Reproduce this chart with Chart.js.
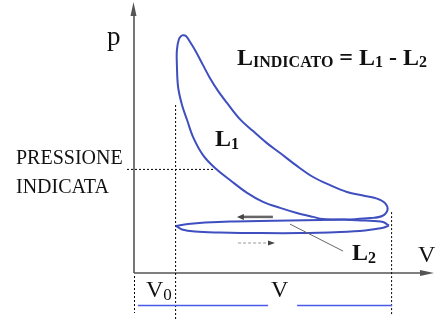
<!DOCTYPE html>
<html>
<head>
<meta charset="utf-8">
<script src="https://cdn.jsdelivr.net/npm/chart.js@4/dist/chart.umd.min.js"></script>
<style>
  body { margin: 0; background: #fff; }
  #wrap { width: 445px; height: 321px; }
</style>
</head>
<body>
<div id="wrap"><canvas id="pv"></canvas></div>
<script>
// Ciclo indicato p-V (unità arbitrarie)
const aspirazioneV = [14.0, 16.0, 20.3, 28.7, 42.0, 55.3, 68.7, 77.0, 82.7, 85.0];
const aspirazioneP = [15.7, 14.5, 13.8, 13.5, 13.3, 13.3, 13.7, 14.2, 15.0, 15.8];

const compressioneV = [85.0, 83.0, 77.0, 70.3, 63.0, 59.7, 54.3, 48.7, 43.0, 37.7, 32.0, 27.0, 23.0, 19.7, 17.7, 16.0, 14.7, 14.3, 14.3, 15.0, 16.0];
const compressioneP = [15.8, 17.0, 17.5, 17.8, 18.0, 18.7, 20.0, 21.7, 23.7, 26.7, 31.0, 35.0, 39.3, 45.3, 51.0, 56.0, 62.0, 69.3, 74.3, 78.0, 79.3];

const espansioneV = [16.0, 17.3, 18.7, 20.7, 23.0, 25.3, 28.0, 31.0, 35.3, 39.7, 44.3, 48.7, 54.3, 59.7, 65.3, 71.0, 76.3, 81.0, 83.7, 84.5, 82.7, 78.7, 71.0];
const espansioneP = [79.3, 79.0, 77.0, 73.7, 69.3, 65.0, 60.7, 56.7, 51.3, 47.3, 43.3, 40.0, 35.7, 32.0, 29.3, 27.0, 25.8, 24.8, 23.3, 21.0, 19.0, 18.3, 17.8];

const scaricoV = [71.0, 62.0, 52.0, 42.0, 32.0, 23.7, 18.0, 14.0];
const scaricoP = [17.8, 17.7, 17.5, 17.3, 17.2, 16.8, 16.3, 15.7];

const V0 = 13.7;          // volume camera di combustione
const V_PMI = 85.7;       // volume al punto morto inferiore
const P_INDICATA = 34.7;
const V_MAX = 100;
const P_MAX = 90;

const BLU = '#3f4fbf';

function punti(vs, ps) {
  return vs.map((v, i) => ({ x: v, y: ps[i] }));
}

function serie(vs, ps) {
  return {
    data: punti(vs, ps),
    showLine: true,
    borderColor: BLU,
    borderWidth: 2,
    pointRadius: 0,
    tension: 0.35,
    fill: false
  };
}

// testo con pedici: parti = [[testo, font, dy], ...]
function scrivi(ctx, parti, x, y) {
  parti.forEach(([t, font, dy]) => {
    ctx.font = font;
    ctx.fillText(t, x, y + (dy || 0));
    x += ctx.measureText(t).width;
  });
}

function freccia(ctx, x1, y1, x2, y2, lung, larg) {
  const a = Math.atan2(y2 - y1, x2 - x1);
  ctx.beginPath();
  ctx.moveTo(x2, y2);
  ctx.lineTo(x2 - lung * Math.cos(a) + larg * Math.sin(a), y2 - lung * Math.sin(a) - larg * Math.cos(a));
  ctx.lineTo(x2 - lung * Math.cos(a) - larg * Math.sin(a), y2 - lung * Math.sin(a) + larg * Math.cos(a));
  ctx.closePath();
  ctx.fill();
}

const disegno = {
  id: 'disegno',
  beforeDatasetsDraw(chart) {
    const { ctx, scales: { x, y } } = chart;
    const X = v => x.getPixelForValue(v);
    const Y = p => y.getPixelForValue(p);
    const H = chart.height;
    ctx.save();

    // assi
    ctx.strokeStyle = '#555';
    ctx.fillStyle = '#555';
    ctx.lineWidth = 1.6;
    ctx.beginPath();
    ctx.moveTo(X(0), Y(0));
    ctx.lineTo(X(0), Y(P_MAX) + 10);
    ctx.moveTo(X(0), Y(0));
    ctx.lineTo(X(V_MAX) - 10, Y(0));
    ctx.stroke();
    freccia(ctx, X(0), Y(0), X(0) - 0.5, Y(P_MAX) - 1, 14, 3);
    freccia(ctx, X(0), Y(0), X(V_MAX), Y(0), 14, 3);

    // linee tratteggiate
    ctx.strokeStyle = '#000';
    ctx.lineWidth = 1;
    ctx.setLineDash([2, 2]);
    ctx.beginPath();
    ctx.moveTo(X(V0) + 0.5, Y(56));
    ctx.lineTo(X(V0) + 0.5, H);
    ctx.moveTo(X(V_PMI) + 0.5, Y(20.3));
    ctx.lineTo(X(V_PMI) + 0.5, H - 5);
    ctx.moveTo(X(0) + 0.5, Y(0) + 3);
    ctx.lineTo(X(0) + 0.5, H - 8);
    ctx.moveTo(X(0) - 7, Y(P_INDICATA) + 0.5);
    ctx.lineTo(X(27), Y(P_INDICATA) + 0.5);
    ctx.stroke();
    ctx.setLineDash([]);

    // quote in blu
    const yq = Y(0) + 32.5;
    const xmV = (X(V0) + X(V_PMI)) / 2 - 4;
    ctx.strokeStyle = '#4a5ae6';
    ctx.lineWidth = 1.5;
    ctx.beginPath();
    ctx.moveTo(X(0) + 4, yq);
    ctx.lineTo(xmV - 11, yq);
    ctx.moveTo(xmV + 18, yq);
    ctx.lineTo(X(V_PMI) + 1, yq);
    ctx.stroke();
    ctx.restore();
  },
  afterDatasetsDraw(chart) {
    const { ctx, scales: { x, y } } = chart;
    const X = v => x.getPixelForValue(v);
    const Y = p => y.getPixelForValue(p);
    ctx.save();

    // frecce del ciclo di pompaggio
    ctx.strokeStyle = '#666';
    ctx.fillStyle = '#444';
    ctx.lineWidth = 2.5;
    ctx.beginPath();
    ctx.moveTo(X(46.3), Y(18.7));
    ctx.lineTo(X(36), Y(18.7));
    ctx.stroke();
    freccia(ctx, X(46.3), Y(18.7), X(34.3), Y(18.7), 7, 3);
    ctx.strokeStyle = '#999';
    ctx.lineWidth = 1;
    ctx.setLineDash([3, 2]);
    ctx.beginPath();
    ctx.moveTo(X(34.7), Y(10));
    ctx.lineTo(X(45), Y(10));
    ctx.stroke();
    ctx.setLineDash([]);
    freccia(ctx, X(34.7), Y(10), X(47), Y(10), 7, 2.5);

    // linea di richiamo L2
    ctx.strokeStyle = '#666';
    ctx.lineWidth = 1;
    ctx.beginPath();
    ctx.moveTo(X(52), Y(16.3));
    ctx.lineTo(X(69.7), Y(7.3));
    ctx.stroke();

    // testi
    const serif = '"Liberation Serif", "Times New Roman", serif';
    ctx.fillStyle = '#111';
    ctx.textBaseline = 'alphabetic';
    ctx.textAlign = 'left';
    scrivi(ctx, [['p', '27px ' + serif]], 107, 45);
    scrivi(ctx, [['PRESSIONE', '20px ' + serif]], 16, 164);
    scrivi(ctx, [['INDICATA', '20px ' + serif]], 16, 193);

    const B = 'bold 24px ' + serif;
    const b = 'bold 16px ' + serif;
    scrivi(ctx, [['L', B], ['INDICATO', b, 2], [' = L', B], ['1', b, 2], [' - L', B], ['2', b, 2]], 237, 65);
    scrivi(ctx, [['L', B], ['1', b, 3]], 215, 146);
    scrivi(ctx, [['L', B], ['2', b, 3]], 352, 260);

    const R = '24px ' + serif;
    scrivi(ctx, [['V', R]], 418, 262);
    scrivi(ctx, [['V', R], ['0', '17px ' + serif, 3]], 146, 297);
    scrivi(ctx, [['V', R]], (X(V0) + X(V_PMI)) / 2 - 12, 297);
    ctx.restore();
  }
};

new Chart(document.getElementById('pv'), {
  type: 'scatter',
  data: {
    datasets: [
      serie(aspirazioneV, aspirazioneP),
      serie(compressioneV, compressioneP),
      serie(espansioneV, espansioneP),
      serie(scaricoV, scaricoP)
    ]
  },
  options: {
    responsive: true,
    maintainAspectRatio: false,
    animation: false,
    layout: { padding: { left: 134, right: 11, top: 3, bottom: 48 } },
    scales: {
      x: { type: 'linear', min: 0, max: V_MAX, display: false },
      y: { type: 'linear', min: 0, max: P_MAX, display: false }
    },
    plugins: {
      legend: { display: false },
      tooltip: { enabled: false }
    }
  },
  plugins: [disegno]
});
</script>
</body>
</html>
